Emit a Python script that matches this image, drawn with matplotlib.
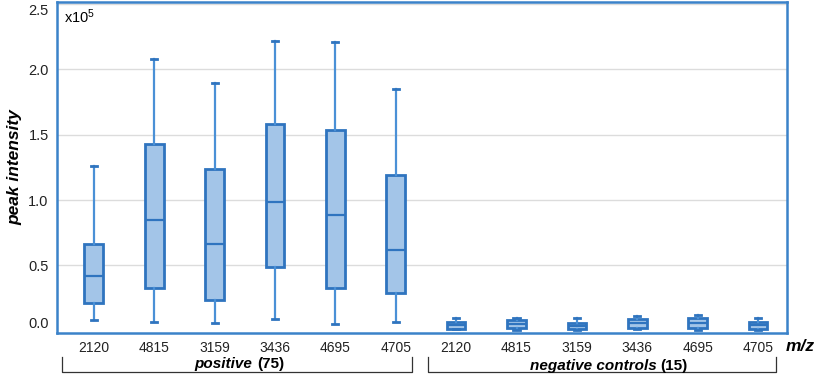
import matplotlib
matplotlib.use('Agg')
import matplotlib.pyplot as plt
import matplotlib.transforms as mtransforms

plt.rcParams['font.family'] = ['Liberation Sans', 'DejaVu Sans']
plt.rcParams['mathtext.default'] = 'regular'

# m/z markers, same order for both groups
mz_labels = ['2120', '4815', '3159', '3436', '4695', '4705']

# box stats in units of 1e5 (whislo, q1, med, q3, whishi)
pos_low = [0.082, 0.067, 0.059, 0.090, 0.054, 0.067]
pos_q1 = [0.214, 0.327, 0.233, 0.485, 0.327, 0.286]
pos_med = [0.421, 0.845, 0.663, 0.985, 0.883, 0.617]
pos_q3 = [0.666, 1.431, 1.237, 1.584, 1.533, 1.194]
pos_high = [1.262, 2.076, 1.898, 2.216, 2.209, 1.847]

neg_low = [0.010, 0.005, 0.005, 0.011, 0.005, 0.008]
neg_q1 = [0.013, 0.018, 0.011, 0.018, 0.023, 0.013]
neg_med = [0.044, 0.049, 0.036, 0.057, 0.057, 0.044]
neg_q3 = [0.069, 0.080, 0.061, 0.090, 0.095, 0.069]
neg_high = [0.095, 0.100, 0.095, 0.112, 0.120, 0.100]

edge = '#2f74bf'
whisk = '#4a90d6'
fill = '#a3c5e8'
frame = '#3b82c9'

stats = []
for lo, q1, md, q3, hi in zip(pos_low + neg_low, pos_q1 + neg_q1, pos_med + neg_med,
                              pos_q3 + neg_q3, pos_high + neg_high):
    stats.append({'whislo': lo, 'q1': q1, 'med': md, 'q3': q3, 'whishi': hi, 'fliers': []})

fig = plt.figure(figsize=(8.17, 3.8), dpi=100)
ax = fig.add_axes([0.0698, 0.1237, 0.8935, 0.871])

positions = list(range(1, 13))
ax.bxp(stats, positions=positions, widths=0.31, patch_artist=True, showfliers=False,
       boxprops=dict(facecolor=fill, edgecolor=edge, linewidth=2.0),
       medianprops=dict(color=edge, linewidth=1.6),
       whiskerprops=dict(color=whisk, linewidth=1.6),
       capprops=dict(color=edge, linewidth=2.0), capwidths=0.1)

for g in [0.5, 1.0, 1.5, 2.0, 2.5]:
    ax.axhline(g, color='#dcdcdc', linewidth=1.0, zorder=0)

ax.set_xlim(0.39, 12.48)
ax.set_ylim(-0.0176, 2.515)

ax.set_xticks(positions)
ax.set_xticklabels(mz_labels + mz_labels, fontsize=10, color='#222222')
ax.set_yticks([0, 0.5, 1.0, 1.5, 2.0, 2.5])
ax.set_yticklabels(['0.0', '0.5', '1.0', '1.5', '2.0', '2.5'], fontsize=10.5, color='#222222')
ax.tick_params(axis='both', length=0)
ax.tick_params(axis='y', pad=6)
ax.tick_params(axis='x', pad=6)
ylabs = ax.get_yticklabels()
ylabs[0].set_va('bottom')
ylabs[-1].set_va('top')

for side in ['top', 'bottom', 'left', 'right']:
    ax.spines[side].set_color(frame)
    ax.spines[side].set_linewidth(1.8)

ax.set_ylabel('peak intensity', fontsize=12.5, fontweight='bold', fontstyle='italic')
ax.yaxis.set_label_coords(-0.047, 0.5)
ax.text(0.009, 0.985, r'x10$^5$', transform=ax.transAxes, fontsize=10.5, ha='left', va='top')

# group brackets under the tick labels
trans = mtransforms.blended_transform_factory(ax.transData, ax.transAxes)
for x0, x1 in [(0.48, 6.27), (6.53, 12.29)]:
    ax.plot([x0, x0, x1, x1], [-0.0725, -0.118, -0.118, -0.0725], color='#333333',
            linewidth=0.9, transform=trans, clip_on=False)

ax.text(3.63, -0.093, 'positive', transform=trans, ha='right', va='center',
        fontsize=11, fontweight='bold', fontstyle='italic')
ax.text(3.70, -0.093, '(75)', transform=trans, ha='left', va='center',
        fontsize=11, fontweight='bold')
ax.text(10.33, -0.1, 'negative controls', transform=trans, ha='right', va='center',
        fontsize=11, fontweight='bold', fontstyle='italic')
ax.text(10.38, -0.1, '(15)', transform=trans, ha='left', va='center',
        fontsize=11, fontweight='bold')

fig.text(0.997, 0.089, 'm/z', ha='right', va='center', fontsize=12.5,
         fontweight='bold', fontstyle='italic')

fig.savefig('out.png', dpi=100)
